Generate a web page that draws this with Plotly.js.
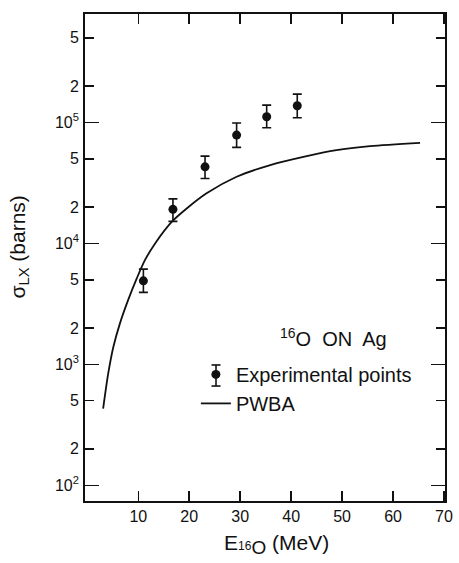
<!DOCTYPE html>
<html>
<head>
<meta charset="utf-8">
<script src="https://cdn.plot.ly/plotly-3.0.1.min.js"></script>
<style>
  html, body { margin: 0; padding: 0; background: #ffffff; }
  #chart { width: 459px; height: 563px; }
</style>
</head>
<body>
<div id="chart"></div>
<script>
// Experimental points (E in MeV, sigma in barns)
const energyExp = [11.0, 16.8, 23.1, 29.3, 35.2, 41.2];
const sigmaExp = [4900, 19100, 42900, 78500, 111300, 137200];
const errPlus = [1220, 4200, 9700, 20200, 27700, 34100];
const errMinus = [970, 3900, 8500, 16400, 21100, 28000];

// PWBA curve
const energyPWBA = [3.1, 4.1, 5.1, 6.4, 8.0, 9.7, 11.3, 13.3, 16.6, 19.5, 23.4, 29.3, 35.9, 42.4, 48.9, 55.5, 65.3];
const sigmaPWBA = [430, 840, 1390, 2180, 3390, 5130, 7260, 9980, 15100, 19400, 25900, 35500, 44400, 51900, 59000, 63700, 67800];

// Tick labels
const xTickVals = [10, 20, 30, 40, 50, 60, 70];
const yTickVals = [100, 200, 500, 1000, 2000, 5000, 10000, 20000, 50000, 100000, 200000, 500000];
const yTickText = ['10<sup>2</sup>', '2', '5', '10<sup>3</sup>', '2', '5', '10<sup>4</sup>', '2', '5', '10<sup>5</sup>', '2', '5'];
const yMajorVals = [100, 1000, 10000, 100000];

const FONT = 'Liberation Sans, Arial, Helvetica, sans-serif';
const INK = '#111111';

const traces = [
  {
    x: energyExp, y: sigmaExp,
    type: 'scatter', mode: 'markers',
    name: 'Experimental points',
    marker: { color: INK, size: 9, symbol: 'circle' },
    error_y: { type: 'data', symmetric: false, array: errPlus, arrayminus: errMinus,
               color: INK, thickness: 1.6, width: 4.5 },
    xaxis: 'x', yaxis: 'y'
  },
  {
    x: energyPWBA, y: sigmaPWBA,
    type: 'scatter', mode: 'lines',
    name: 'PWBA',
    line: { color: INK, width: 1.8, shape: 'spline', smoothing: 0.8 },
    xaxis: 'x', yaxis: 'y2'
  }
];

const yRange = [1.870, 5.896];

// legend error-bar glyph (decoration next to the legend marker, paper coords)
const legBarX = 0.3639, legBarTop = 0.2793, legBarBot = 0.2361, legCap = 0.0125;

const layout = {
  width: 459, height: 563,
  margin: { l: 85, r: 14, t: 14, b: 62 },
  paper_bgcolor: '#ffffff', plot_bgcolor: '#ffffff',
  font: { family: FONT, color: INK, size: 16 },
  showlegend: true,
  legend: {
    x: 0.308, y: 0.30, xanchor: 'left', yanchor: 'top',
    bgcolor: 'rgba(0,0,0,0)', borderwidth: 0,
    font: { family: FONT, size: 20, color: INK },
    tracegroupgap: 0
  },
  xaxis: {
    type: 'linear', range: [-0.46, 70.2],
    tickmode: 'array', tickvals: xTickVals, ticktext: xTickVals.map(String),
    ticks: 'inside', ticklen: 10, tickwidth: 1.5, tickcolor: INK,
    showline: true, linecolor: INK, linewidth: 1.8, mirror: 'ticks',
    showgrid: false, zeroline: false,
    tickfont: { family: FONT, size: 16, color: INK }
  },
  yaxis: {
    type: 'log', range: yRange,
    tickmode: 'array', tickvals: yTickVals, ticktext: yTickText,
    ticks: 'inside', ticklen: 9, tickwidth: 1.5, tickcolor: INK,
    showline: true, linecolor: INK, linewidth: 1.8, mirror: 'ticks',
    showgrid: false, zeroline: false,
    ticklabelstandoff: 1,
    tickfont: { family: FONT, size: 16, color: INK }
  },
  yaxis2: {
    type: 'log', range: yRange, overlaying: 'y', side: 'left',
    tickmode: 'array', tickvals: yMajorVals,
    ticks: 'inside', ticklen: 14, tickwidth: 1.5, tickcolor: INK,
    showticklabels: false, showline: false, mirror: 'ticks',
    showgrid: false, zeroline: false
  },
  shapes: [
    { type: 'line', xref: 'paper', yref: 'paper', x0: legBarX, x1: legBarX, y0: legBarBot, y1: legBarTop,
      line: { color: INK, width: 1.6 } },
    { type: 'line', xref: 'paper', yref: 'paper', x0: legBarX - legCap, x1: legBarX + legCap, y0: legBarTop, y1: legBarTop,
      line: { color: INK, width: 1.6 } },
    { type: 'line', xref: 'paper', yref: 'paper', x0: legBarX - legCap, x1: legBarX + legCap, y0: legBarBot, y1: legBarBot,
      line: { color: INK, width: 1.6 } }
  ],
  annotations: [
    { text: 'σ<sub>LX</sub> (barns)', xref: 'paper', yref: 'paper',
      x: -0.1847, y: 0.5216, xanchor: 'center', yanchor: 'middle',
      textangle: -90, showarrow: false,
      font: { family: FONT, size: 21, color: INK } },
    { text: 'E<span style="font-size:12px">16</span><sub><span style="font-size:19px">O</span></sub> (MeV)', xref: 'paper', yref: 'paper',
      x: 0.533, y: -0.058, xanchor: 'center', yanchor: 'top',
      showarrow: false,
      font: { family: FONT, size: 21, color: INK } },
    { text: '<sup>16</sup>O  ON  Ag', xref: 'paper', yref: 'paper',
      x: 0.689, y: 0.335, xanchor: 'center', yanchor: 'middle',
      showarrow: false,
      font: { family: FONT, size: 20, color: INK } }
  ]
};

Plotly.newPlot('chart', traces, layout, { displayModeBar: false, staticPlot: true });
</script>
</body>
</html>
